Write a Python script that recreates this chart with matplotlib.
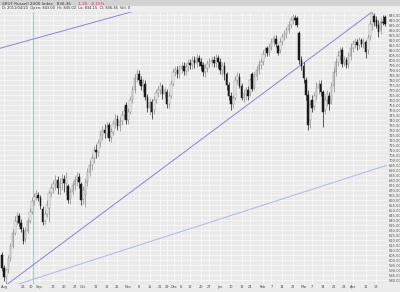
import numpy as np
import matplotlib
matplotlib.use("Agg")
import matplotlib.pyplot as plt

# daily candles, $RUT Aug 2010 - Apr 2011
opens = [605, 592, 583, 590, 602, 614, 627, 639, 644, 637, 630, 621, 629, 639, 648, 659, 663, 665, 662, 651,
         639, 646, 652, 667, 672, 676, 680, 672, 677, 681, 677, 674, 662, 668, 675, 680, 683, 676, 661, 665,
         678, 688, 695, 702, 710, 708, 717, 725, 730, 727, 735, 723, 728, 736, 741, 734, 739, 745, 755, 740,
         748, 760, 770, 782, 786, 780, 774, 776, 763, 752, 758, 750, 760, 767, 770, 774, 766, 768, 756, 764,
         776, 788, 790, 786, 791, 794, 789, 793, 797, 795, 800, 797, 802, 798, 795, 788, 792, 796, 798, 800,
         797, 802, 798, 790, 794, 786, 775, 764, 756, 762, 780, 783, 774, 762, 766, 770, 768, 786, 772, 784,
         790, 795, 798, 806, 812, 807, 813, 818, 821, 814, 810, 818, 823, 826, 830, 835, 840, 842, 842, 827,
         800, 794, 780, 765, 740, 760, 754, 764, 772, 776, 768, 750, 760, 764, 760, 774, 788, 798, 804, 810,
         798, 800, 796, 804, 812, 816, 818, 815, 820, 816, 818, 810, 824, 836, 844, 840, 835, 830, 838, 843]
highs = [608, 595, 592, 605, 617, 631, 644, 648, 647, 641, 633, 633, 642, 652, 663, 667, 670, 668, 665, 654,
         650, 660, 670, 676, 680, 685, 684, 682, 686, 685, 688, 676, 672, 679, 684, 688, 687, 678, 674, 682,
         692, 700, 706, 714, 716, 721, 730, 734, 736, 738, 738, 732, 740, 746, 745, 743, 749, 754, 758, 752,
         764, 774, 786, 791, 790, 784, 781, 780, 766, 762, 761, 764, 771, 774, 778, 776, 773, 771, 768, 780,
         792, 794, 794, 795, 798, 798, 797, 801, 801, 804, 804, 806, 805, 802, 798, 796, 800, 802, 804, 804,
         806, 805, 802, 798, 798, 788, 778, 768, 765, 784, 788, 787, 777, 770, 773, 774, 782, 788, 788, 794,
         800, 802, 810, 813, 814, 817, 822, 825, 825, 816, 822, 827, 830, 833, 839, 843, 846, 845, 844, 829,
         804, 798, 783, 770, 760, 765, 768, 778, 780, 780, 770, 764, 770, 768, 778, 793, 802, 810, 813, 813,
         804, 803, 808, 817, 820, 822, 821, 823, 822, 822, 820, 826, 840, 849, 847, 844, 840, 843, 845, 845]
lows = [589, 579, 576, 587, 599, 612, 625, 635, 634, 628, 616, 618, 627, 637, 646, 655, 660, 659, 651, 635,
        636, 643, 638, 663, 667, 670, 666, 665, 670, 668, 665, 657, 656, 665, 670, 674, 672, 655, 656, 653,
        674, 684, 690, 697, 702, 704, 713, 720, 722, 723, 719, 718, 725, 732, 730, 729, 735, 741, 736, 736,
        746, 757, 767, 778, 776, 770, 768, 760, 748, 745, 741, 746, 757, 763, 766, 761, 762, 752, 752, 762,
        774, 784, 782, 782, 787, 785, 785, 789, 791, 791, 792, 793, 794, 790, 784, 783, 788, 792, 794, 793,
        793, 792, 786, 784, 780, 770, 760, 750, 752, 760, 776, 772, 760, 758, 760, 760, 764, 769, 770, 780,
        786, 791, 795, 803, 804, 804, 810, 814, 813, 805, 807, 815, 820, 822, 827, 832, 836, 835, 833, 796,
        790, 777, 760, 730, 732, 748, 750, 760, 766, 764, 733, 746, 754, 750, 756, 768, 784, 794, 800, 793,
        794, 792, 792, 800, 808, 812, 810, 811, 813, 812, 802, 806, 820, 830, 834, 832, 823, 826, 835, 834]
closes = [592, 583, 590, 602, 614, 627, 639, 644, 637, 631, 619, 629, 639, 648, 659, 663, 666, 662, 654, 638,
          646, 655, 667, 672, 676, 680, 672, 677, 681, 677, 682, 660, 668, 675, 680, 684, 678, 660, 670, 678,
          688, 695, 702, 710, 708, 717, 725, 730, 727, 733, 722, 728, 736, 741, 734, 739, 745, 749, 740, 748,
          760, 770, 782, 786, 780, 774, 777, 763, 752, 758, 748, 760, 767, 770, 774, 766, 770, 756, 764, 776,
          788, 790, 786, 791, 794, 789, 793, 797, 795, 800, 797, 802, 798, 794, 788, 792, 796, 798, 800, 797,
          802, 798, 790, 794, 786, 775, 764, 756, 762, 780, 784, 774, 762, 766, 770, 764, 780, 771, 784, 790,
          795, 798, 806, 810, 807, 813, 818, 822, 816, 807, 818, 823, 826, 830, 835, 840, 843, 840, 835, 800,
          794, 782, 765, 735, 755, 752, 764, 772, 776, 768, 748, 760, 766, 756, 774, 788, 798, 804, 808, 796,
          800, 795, 804, 812, 816, 818, 815, 820, 816, 818, 808, 822, 836, 846, 838, 834, 828, 838, 837.61, 836.36]

# week / month labels and the bar they sit under
tick_labels = ["Aug", "23", "30", "Sep", "13", "20", "27", "Oct", "11", "18", "25",
               "Nov", "8", "15", "22", "29", "Dec", "6", "13", "20", "27",
               "Jan", "10", "18", "24", "Feb", "7", "14", "22",
               "Mar", "7", "14", "21", "28", "Apr", "11", "18"]
tick_idx = [1, 10, 13.5, 17.5, 24, 29, 34, 38, 44, 49, 54,
            59, 64, 69, 74, 77, 80.5, 83.5, 88, 93, 97,
            102, 107, 112, 116, 122, 126, 131, 136,
            141, 145, 150, 155, 160, 164, 170, 175]

# drawn trend lines (bar index, price)
trend_main_x = [2, 173]
trend_main_y = [575, 848.4]
trend_top_x = [-1, 63]
trend_top_y = [812, 850]
trend_low_x = [2, 180]
trend_low_y = [572, 695]
cursor_idx = 14.5

fig = plt.figure(figsize=(4.0, 2.92), dpi=100, facecolor="#ececec")
ax = fig.add_axes([0.0, 0.0274, 0.9675, 0.937])
ax.set_facecolor("#eaeaea")

o = np.array(opens, dtype=float)
h = np.array(highs, dtype=float)
l = np.array(lows, dtype=float)
c = np.array(closes, dtype=float)
x = np.arange(len(c))
up = c >= o

ax.set_xlim(-0.9, 180.0)
ax.set_ylim(576, 850)
ax.set_yticks(np.arange(580, 851, 5))
ax.set_xticks(tick_idx)
ax.set_xticklabels(tick_labels)
ax.grid(True, color="#fbfbfb", linewidth=0.5)
ax.set_axisbelow(True)

ax.axvline(cursor_idx, color="#a9c4cc", linewidth=0.7, zorder=1)

ax.plot(trend_main_x, trend_main_y, color="#8f7fe0", linewidth=0.7, zorder=2)
ax.plot(trend_top_x, trend_top_y, color="#8f7fe0", linewidth=0.7, zorder=2)
ax.plot(trend_low_x, trend_low_y, color="#a9b9f2", linewidth=0.7, zorder=2)

ax.vlines(x[up], l[up], h[up], color="#8a8a8a", linewidth=0.5, zorder=3)
ax.vlines(x[~up], l[~up], h[~up], color="#1a1a1a", linewidth=0.5, zorder=3)
body_lo = np.minimum(o, c)
body_h = np.maximum(np.abs(c - o), 0.6)
ax.bar(x[up], body_h[up], bottom=body_lo[up], width=0.75, color="#fafafa",
       edgecolor="#8a8a8a", linewidth=0.35, zorder=4)
ax.bar(x[~up], body_h[~up], bottom=body_lo[~up], width=0.75, color="#1a1a1a",
       edgecolor="#1a1a1a", linewidth=0.35, zorder=4)

ax.yaxis.tick_right()
ax.yaxis.set_major_formatter(matplotlib.ticker.FormatStrFormatter("%.2f"))
ax.tick_params(axis="y", length=0, pad=1, labelsize=2.6, labelcolor="#555555")
ax.tick_params(axis="x", length=0, pad=0.8, labelsize=2.5, labelcolor="#444444")
for s in ax.spines.values():
    s.set_visible(False)

# header bar
fig.patches.append(matplotlib.patches.Rectangle((0, 0.979), 1, 0.021, transform=fig.transFigure,
                                                color="#d2d2d2", zorder=0))
fig.patches.append(matplotlib.patches.Rectangle((0, 0.964), 1, 0.015, transform=fig.transFigure,
                                                color="#eeeeee", zorder=0))
fig.text(0.006, 0.988, "$RUT Russell 2000 Index   836.36", fontsize=3.0, color="#333333", va="center")
fig.text(0.195, 0.988, "-1.25", fontsize=3.0, color="#e03030", va="center")
fig.text(0.228, 0.988, "-0.15%", fontsize=3.0, color="#e03030", va="center")
fig.text(0.006, 0.971, "D: 2011/04/20  Open: 843.00  Hi: 845.02  Lo: 834.15  Cl: 836.36  Vol: 0",
         fontsize=2.6, color="#333333", va="center")

fig.savefig("out.png", dpi=100, facecolor=fig.get_facecolor())
